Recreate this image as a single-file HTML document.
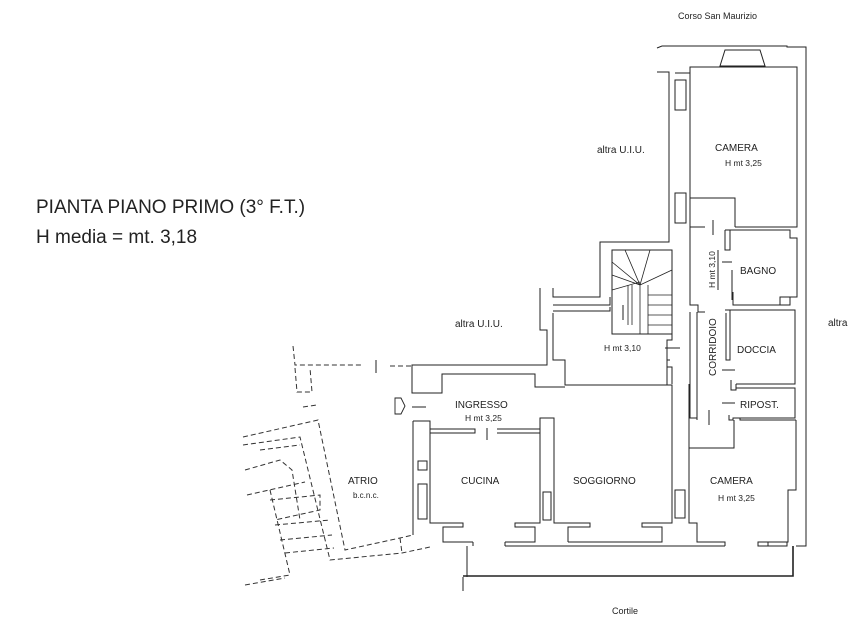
<!DOCTYPE html>
<html><head><meta charset="utf-8"><style>
html,body{margin:0;padding:0;background:#fff;width:850px;height:638px;overflow:hidden}
svg{display:block}
text{font-family:"Liberation Sans",sans-serif;fill:#222}
</style></head><body>
<svg width="850" height="638" viewBox="0 0 850 638" xmlns="http://www.w3.org/2000/svg">
<g fill="none" stroke="#222" stroke-width="1">
<!-- top outer -->
<polyline points="657,48 662,46 787,46 787,47 806,47 806,546 796,546"/>
<polygon points="725,50 760,50 765,66 720,66"/>
<!-- camera top -->
<polyline points="657,72 669,72 669,242 600,242 600,297 553,297 553,288"/>
<polyline points="675,73 690,73 690,67 797,67 797,227 735,227"/>
<line x1="690" y1="67" x2="690" y2="227"/>
<polyline points="690,198 735,198 735,227"/>
<rect x="675" y="80" width="11" height="30"/>
<rect x="675" y="193" width="11" height="30"/>
<!-- corridor left -->
<polyline points="705,227 690,227 690,305 698,305 698,312 705,312"/>
<line x1="713" y1="220" x2="713" y2="235"/>
<line x1="718" y1="250" x2="718" y2="290"/>
<!-- bagno -->
<polyline points="725,230 790,230 790,238 797,238 797,297 790,297 790,305 733,305 733,292"/>
<polyline points="725,230 725,250 730,250 730,230"/>
<line x1="722" y1="262" x2="732" y2="262"/>
<line x1="732" y1="270" x2="732" y2="300"/>
<rect x="780" y="297" width="10" height="8"/>
<!-- doccia -->
<polyline points="725,310 795,310 795,384 736,384"/>
<polyline points="730,310 730,360 726,360 726,313"/>
<line x1="722" y1="370" x2="735" y2="370"/>
<polyline points="731,380 731,390 736,390 736,384"/>
<!-- ripost -->
<polyline points="736,388 795,388 795,418 736,418"/>
<line x1="722" y1="403" x2="735" y2="403"/>
<polyline points="729,415 729,420 733,420 733,418 740,418 740,420 796,420"/>
<line x1="709" y1="410" x2="709" y2="425"/>
<!-- stair -->
<rect x="612" y="250" width="60" height="84"/>
<path d="M612,275 L640,285 M612,262 L640,285 M625,250 L640,285 M650,250 L640,285 M672,270 L640,285 M640,285 V334 M648,285 V334 M648,295 H672 M648,305 H672 M648,315 H672 M648,325 H672 M612,290 L640,282 M628,285 V325 M632,285 V325" stroke-width="0.8"/>
<polyline points="553,305 610,305 610,297"/>
<polyline points="553,311 610,311 610,307"/>
<line x1="623" y1="305" x2="623" y2="320"/>
<!-- central hall -->
<polyline points="553,313 553,360 565,360 565,385 667,385"/>
<polyline points="540,288 540,330 547,330 547,365 412,365 412,393 442,393 442,374 535,374 535,387 565,387"/>
<polyline points="672,334 672,340 667,340 667,367 672,367 672,384"/>
<line x1="665" y1="348" x2="680" y2="348"/>
<polyline points="690,312 690,418 697,418 697,420"/>
<polyline points="697,312 697,420"/>
<!-- lower building -->
<polyline points="413,421 413,535"/>
<polyline points="413,421 430,421 430,523 463,523 463,527 443,527 443,542 473,542"/>
<rect x="418" y="461" width="9" height="9"/>
<rect x="418" y="484" width="9" height="35"/>
<polyline points="430,429 475,429 475,433 430,433"/>
<line x1="487" y1="428" x2="487" y2="440"/>
<polyline points="497,429 540,429 540,433 497,433"/>
<polyline points="540,433 540,523 515,523 515,527 535,527 535,542 505,542"/>
<polyline points="540,429 540,418 554,418 554,523 590,523 590,527 568,527 568,542"/>
<rect x="543" y="492" width="8" height="28"/>
<polyline points="505,546 725,546"/>
<polyline points="473,542 473,546"/>
<line x1="505" y1="542" x2="505" y2="546"/>
<polyline points="667,385 672,385 672,523 642,523 642,527 662,527 662,542 568,542"/>
<polyline points="667,385 667,360 670,360"/>
<rect x="675" y="490" width="10" height="28"/>
<polyline points="689,384 689,523 697,523 697,542 725,542 725,546"/>
<polyline points="689,448 734,448 734,420"/>
<line x1="728" y1="448" x2="740" y2="448" stroke-width="0"/>
<polyline points="796,420 796,490 788,490 788,542 758,542 758,546 787,546 787,542"/>
<line x1="768" y1="542" x2="768" y2="546"/>
<!-- cortile -->
<polyline points="467,546 467,577"/>
<polyline points="463,577 463,591"/>
<polyline points="463,576 793,576 793,546" stroke-width="1.6"/>
<!-- arrow -->
<polygon points="395,398 401,398 405,406 401,414 395,414" stroke-width="0.9"/>
<line x1="412" y1="407" x2="426" y2="407"/>
<line x1="376" y1="360" x2="376" y2="373"/>
</g>
<!-- dashed -->
<g fill="none" stroke="#333" stroke-width="1" stroke-dasharray="5,3">
<polyline points="293,346 295,365 363,365"/>
<line x1="390" y1="366" x2="412" y2="366"/>
<polyline points="295,368 297,392 312,392 310,368"/>
<line x1="303" y1="407" x2="317" y2="405"/>
<polyline points="243,437 318,420 345,550 400,538 413,535"/>
<polyline points="243,445 300,437 330,560 402,553 430,547"/>
<polyline points="400,538 402,553"/>
<polyline points="260,450 300,445"/>
<polyline points="245,470 280,460 292,470 300,520"/>
<polyline points="247,495 305,482"/>
<polyline points="270,500 320,495 320,510 275,520"/>
<polyline points="275,525 330,520"/>
<polyline points="280,540 332,535"/>
<polyline points="285,553 334,548"/>
<polyline points="270,490 290,575"/>
<polyline points="260,580 290,575"/>
<polyline points="245,585 285,578"/>
</g>
<!-- texts -->
<text x="36" y="213" font-size="19">PIANTA PIANO PRIMO (3° F.T.)</text>
<text x="36" y="243" font-size="19">H media = mt. 3,18</text>
<text x="678" y="19" font-size="9">Corso San Maurizio</text>
<text x="597" y="153" font-size="10">altra U.I.U.</text>
<text x="715" y="151" font-size="10">CAMERA</text>
<text x="725" y="166" font-size="8.5">H mt 3,25</text>
<text x="740" y="274" font-size="10">BAGNO</text>
<text x="737" y="353" font-size="10">DOCCIA</text>
<text x="740" y="408" font-size="10">RIPOST.</text>
<text x="828" y="326" font-size="10">altra</text>
<text x="455" y="327" font-size="10">altra U.I.U.</text>
<text x="604" y="351" font-size="8.5">H mt 3,10</text>
<text transform="translate(715,288) rotate(-90)" font-size="8.5">H mt 3,10</text>
<text transform="translate(716,376) rotate(-90)" font-size="10">CORRIDOIO</text>
<text x="455" y="408" font-size="10">INGRESSO</text>
<text x="465" y="421" font-size="8.5">H mt 3,25</text>
<text x="348" y="484" font-size="10">ATRIO</text>
<text x="353" y="498" font-size="8">b.c.n.c.</text>
<text x="461" y="484" font-size="10">CUCINA</text>
<text x="573" y="484" font-size="10">SOGGIORNO</text>
<text x="710" y="484" font-size="10">CAMERA</text>
<text x="718" y="501" font-size="8.5">H mt 3,25</text>
<text x="612" y="614" font-size="9">Cortile</text>
</svg>
</body></html>
